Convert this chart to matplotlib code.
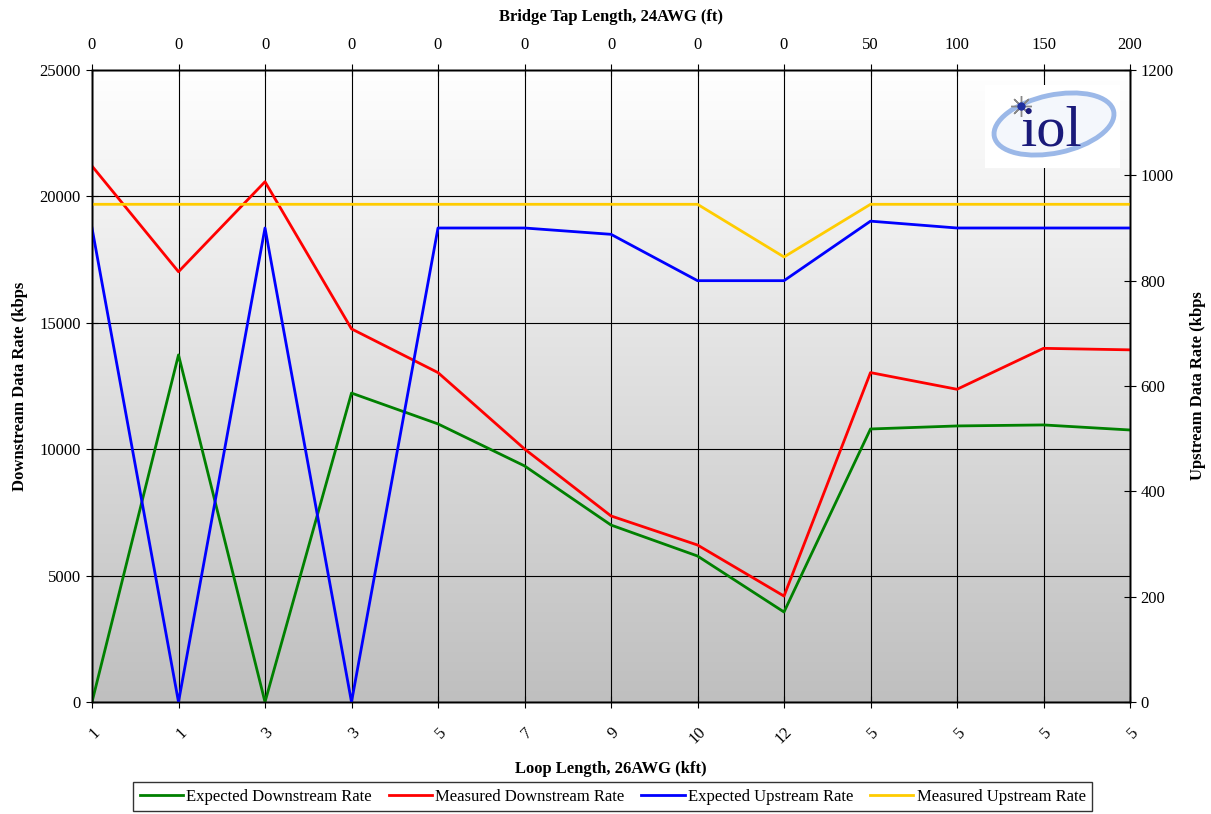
import numpy as np
import matplotlib
matplotlib.use('Agg')
import matplotlib.pyplot as plt
from matplotlib.patches import Ellipse, Rectangle

plt.rcParams['font.family'] = ['Liberation Serif', 'DejaVu Serif']

# Data
loop_kft = ['1', '1', '3', '3', '5', '7', '9', '10', '12', '5', '5', '5', '5']
bridge_tap_ft = ['0', '0', '0', '0', '0', '0', '0', '0', '0', '50', '100', '150', '200']
expected_down = [0, 13730, 0, 12220, 11000, 9340, 7000, 5775, 3560, 10800, 10920, 10960, 10760]
measured_down = [21200, 17020, 20580, 14760, 13030, 10010, 7360, 6210, 4190, 13030, 12370, 13990, 13930]
expected_up = [900, 0, 900, 0, 900, 900, 888, 800, 800, 913, 900, 900, 900]
measured_up = [945, 945, 945, 945, 945, 945, 945, 945, 845, 945, 945, 945, 945]

x = np.arange(len(loop_kft))

fig = plt.figure(figsize=(12.11, 8.14), dpi=100)
ax = fig.add_axes([92 / 1211, 1 - 702 / 814, (1130 - 92) / 1211, (702 - 70) / 814])

# gradient background (white at top -> grey at bottom)
grad = np.linspace(0, 1, 256).reshape(-1, 1)
cmap = matplotlib.colors.LinearSegmentedColormap.from_list('bg', ['#ffffff', '#bfbfbf'])
ax.imshow(grad, aspect='auto', cmap=cmap, extent=[0, len(x) - 1, 0, 25000], zorder=0)

ax.set_xlim(0, len(x) - 1)
ax.set_ylim(0, 25000)
ax.set_yticks(range(0, 25001, 5000))
ax.set_xticks(x)
ax.set_xticklabels(loop_kft, rotation=45, ha='right', va='top', rotation_mode='anchor')
ax.grid(True, color='black', linewidth=0.8, zorder=1)
ax.set_axisbelow(False)
ax.tick_params(axis='both', direction='inout', length=8, labelsize=12, pad=4)
ax.tick_params(axis='x', pad=12)

l1, = ax.plot(x, expected_down, color='#008000', linewidth=2, label='Expected Downstream Rate', zorder=3)
l2, = ax.plot(x, measured_down, color='#ff0000', linewidth=2, label='Measured Downstream Rate', zorder=3)
ax.set_ylabel('Downstream Data Rate (kbps', fontsize=12, fontweight='bold', labelpad=8)
ax.set_xlabel('Loop Length, 26AWG (kft)', fontsize=12, fontweight='bold', labelpad=10)

ax2 = ax.twinx()
ax2.set_ylim(0, 1200)
ax2.set_yticks(range(0, 1201, 200))
ax2.tick_params(axis='y', direction='inout', length=8, labelsize=12)
l3, = ax2.plot(x, expected_up, color='#0000ff', linewidth=2, label='Expected Upstream Rate', zorder=3)
l4, = ax2.plot(x, measured_up, color='#ffcc00', linewidth=2, label='Measured Upstream Rate', zorder=3)
ax2.set_ylabel('Upstream Data Rate (kbps', fontsize=12, fontweight='bold', rotation=90, labelpad=12)

ax3 = ax.twiny()
ax3.set_xlim(0, len(x) - 1)
ax3.set_xticks(x)
ax3.set_xticklabels(bridge_tap_ft)
ax3.tick_params(axis='x', direction='inout', length=8, labelsize=12, pad=8)
ax3.set_xlabel('Bridge Tap Length, 24AWG (ft)', fontsize=12, fontweight='bold', labelpad=12)

for a in (ax, ax2, ax3):
    for s in a.spines.values():
        s.set_color('black')
        s.set_linewidth(1)

leg = fig.legend(handles=[l1, l2, l3, l4], loc='lower center', bbox_to_anchor=(0.506, -0.007),
                 ncol=4, fontsize=12, frameon=True, fancybox=False, edgecolor='black',
                 handlelength=2.6, handletextpad=0.2, columnspacing=1.0, borderpad=0.4)
leg.get_frame().set_linewidth(1)

# iol logo
lax = fig.add_axes([985 / 1211, 1 - 168 / 814, 135 / 1211, 83 / 814])
lax.set_xlim(0, 135)
lax.set_ylim(0, 83)
lax.axis('off')
lax.add_patch(Rectangle((0, 0), 135, 83, facecolor='white', edgecolor='none'))
lax.add_patch(Ellipse((69, 44), 122, 58, angle=12, facecolor='#f4f7fc', edgecolor='#9bb8e8', linewidth=3.5))
lax.text(67, 37, 'iol', fontsize=42, color='#1a1a7a', ha='center', va='center', family='Liberation Serif')
lax.plot([36], [62], marker=(8, 2, 0), markersize=15, color='#888888', markeredgewidth=1)
lax.plot([36], [62], marker='o', markersize=5, color='#2030a0')

fig.savefig('out.png', dpi=100)
